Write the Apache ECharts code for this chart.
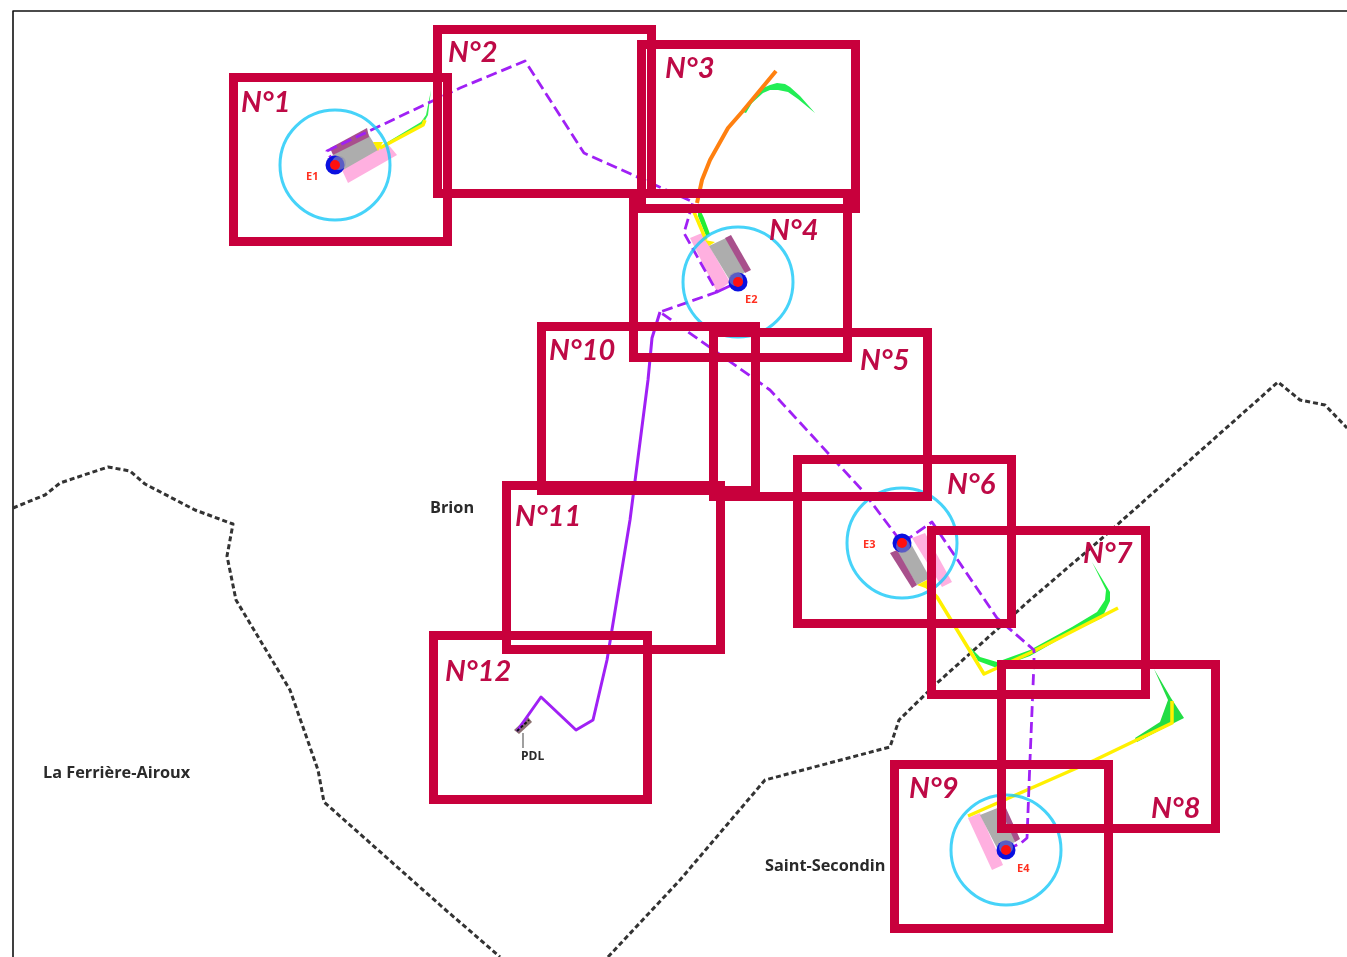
<!DOCTYPE html>
<html>
<head>
<meta charset="utf-8">
<style>html,body{margin:0;padding:0;background:#fff}#c{width:1347px;height:957px}</style>
<script src="https://cdn.jsdelivr.net/npm/echarts@6/dist/echarts.min.js"></script>
</head>
<body>
<div id="c"></div>
<script>
// Map-space values (x, y)
const borderTopLeft = [[13,957],[13,11],[1347,11]];
const communeWest = [[13,508],[45,495],[60,483],[108,467],[130,471],[145,484],[195,510],[233,524],[227,556],[236,600],[290,690],[318,770],[324,802],[440,905],[500,957]];
const communeEast = [[608,957],[680,880],[765,780],[890,747],[899,720],[937,683],[1030,600],[1100,540],[1278,382],[1300,400],[1325,405],[1347,428]];

const cableDashed = [[335,165],[327,151],[460,88],[525,61],[584,153],[693,202],[684,233],[717,292],[738,282],[717,292],[660,312],[770,390],[862,490],[902,543],[932,522],[997,618],[1034,650],[1034,662],[1030,760],[1027,838],[1021,843],[1006,850]];
const cableSolid = [[660,312],[652,338],[648,380],[630,520],[607,660],[593,720],[576,730],[541,697],[517,731]];

const stations = [[335,165,'E1'],[738,282,'E2'],[902,543,'E3'],[1006,850,'E4']];
const stationHalos = [[339,163],[736,279],[903,546],[1006,847]];

const pink1 = [[348,183],[397,155],[387,143],[342,170]];
const grey1 = [[330,157],[367,132],[378,150],[343,170]];
const dark1 = [[330,148],[367,128],[369,137],[333,155]];
const pink2 = [[690,238],[702,233],[730,282],[717,292]];
const grey2 = [[709,246],[726,238],[745,272],[732,284]];
const dark2 = [[725,238],[731,235],[751,270],[745,273]];
const pink3 = [[912,538],[925,533],[952,582],[942,587]];
const grey3 = [[897,552],[910,542],[930,578],[917,585]];
const dark3 = [[890,553],[897,550],[917,585],[912,588]];
const pink4 = [[968,818],[980,813],[1003,865],[992,870]];
const grey4 = [[980,815],[1005,805],[1015,842],[998,850]];
const dark4 = [[1000,808],[1005,806],[1020,839],[1015,842]];

const greenA = [[431,90],[426,115],[421,122],[386,143],[388,145],[423,124],[428,115]];
const greenB = [[743,112],[755,98],[763,88],[770,85],[777,83],[785,84],[790,87],[800,96],[815,113],[798,99],[788,92],[778,90],[770,90],[763,93],[752,103],[746,113]];
const greenC = [[698,205],[704,218],[710,234],[706,236],[698,216]];
const greenD = [[970,647],[980,657],[997,662],[1030,650],[1072,627],[1097,612],[1105,600],[1106,590],[1092,562],[1110,592],[1110,601],[1102,618],[1072,632],[1030,656],[997,668],[978,661]];
const greenE = [[1154,669],[1171,698],[1184,718],[1172,724],[1137,742],[1135,738],[1160,722],[1168,700]];

const yellowTri1 = [[373,142],[383,142],[378,151]];
const yellowTri2 = [[705,240],[715,242],[709,246]];
const yellowTri3 = [[917,585],[927,580],[928,589]];
const yellow1 = [[380,148],[423,125],[425,120]];
const yellow2 = [[694,212],[706,240]];
const yellow3 = [[925,585],[937,597],[984,674],[997,668],[1030,653],[1118,608]];
const yellow4 = [[968,816],[1095,760],[1172,723],[1172,701]];
const orange = [[697,203],[702,180],[710,160],[728,128],[742,112],[776,71]];

const pdlBox = [[514,730],[528,717],[532,722],[519,734]];
const pdlDash = [[517,731],[529,720]];
const pdlStem = [[523,733],[523,748]];

const frames = [[229,73],[433,25],[637,40],[629,189],[709,328],[793,455],[927,526],[997,660],[890,760],[537,322],[502,481],[429,631]];
const frameNames = ['N°1','N°2','N°3','N°4','N°5','N°6','N°7','N°8','N°9','N°10','N°11','N°12'];
const frameLabelPos = [[241,103],[448,53],[665,69],[769,231],[860,361],[947,485],[1083,554],[1151,809],[909,789],[549,351],[515,517],[445,672]];

const placeNames = [['Brion',430,508],['La Ferrière-Airoux',43,773],['Saint-Secondin',765,866]];
const pdlLabel = [['PDL',521,757]];
const stationLabels = [['E1',306,177],['E2',745,300],['E3',863,545],['E4',1017,869]];

const FRAME_W = 214, FRAME_H = 164, FRAME_LW = 9;

function poly(pts, fill, opacity) {
  return {
    type: 'custom', data: pts, silent: true, clip: false,
    renderItem(params, api) {
      if (params.dataIndex !== 0) return null;
      return {type: 'polygon', shape: {points: pts.map(p => api.coord(p))}, style: {fill, opacity: opacity == null ? 1 : opacity}};
    }
  };
}
function line(pts, color, width, dash) {
  return {
    type: 'line', data: pts, showSymbol: false, symbol: 'none', silent: true, clip: true,
    lineStyle: {color, width, type: dash || 'solid', cap: 'butt', join: 'round'}
  };
}
function labels(rows, font, fill) {
  return {
    type: 'custom', data: rows.map(r => [r[1], r[2], r[0]]), silent: true, clip: false,
    renderItem(params, api) {
      const c = api.coord([api.value(0), api.value(1)]);
      return {type: 'text', style: {x: c[0], y: c[1], text: rows[params.dataIndex][0], font, fill, align: 'left', verticalAlign: 'middle'}};
    }
  };
}
function dots(pts, size, color, opacity) {
  return {
    type: 'scatter', data: pts.map(s => [s[0], s[1]]), symbol: 'circle', symbolSize: size, silent: true,
    itemStyle: {color, opacity: opacity == null ? 1 : opacity}
  };
}

const series = [
  line(borderTopLeft, '#111', 1.6),
  line(communeWest, '#333', 3, [5,3]),
  line(communeEast, '#333', 3, [5,3]),

  poly(pink1,'#FFB0E0'), poly(pink2,'#FFB0E0'), poly(pink3,'#FFB0E0'), poly(pink4,'#FFB0E0'),
  poly(grey1,'#ADADAD'), poly(grey2,'#ADADAD'), poly(grey3,'#ADADAD'), poly(grey4,'#ADADAD'),
  poly(dark1,'#A8508C'), poly(dark2,'#A8508C'), poly(dark3,'#A8508C'), poly(dark4,'#A8508C'),

  poly(greenA,'#33EE55'), poly(greenB,'#22EE55'), poly(greenC,'#22EE33'), poly(greenD,'#22EE44'), poly(greenE,'#22DD44'),
  poly(yellowTri1,'#FFF000'), poly(yellowTri2,'#FFF000'), poly(yellowTri3,'#FFF000'),
  line(yellow1,'#FFF000',3.5), line(yellow2,'#FFF000',3.5), line(yellow3,'#FFF000',3.5), line(yellow4,'#FFF000',3.5),
  line(orange,'#FF8010',4),

  poly(pdlBox,'#8A6F6F'),
  line(pdlStem,'#888',1.6),

  line(cableSolid,'#A020F5',3),
  line(pdlDash,'#111',2,[3,2]),
  line(cableDashed,'#A020F5',2.8,[11,5]),

  {
    type: 'scatter', data: stations.map(s => [s[0], s[1]]), symbol: 'circle', symbolSize: 110, silent: true,
    itemStyle: {color: 'rgba(0,0,0,0)', borderColor: '#18C8F8', borderWidth: 3}
  },
  dots(stations, 19,'#0A10E0'),
  dots(stationHalos, 14,'#9090B0',0.6),
  dots(stations, 10,'#FF1010'),

  {
    type: 'custom', data: frames, silent: true, clip: false,
    renderItem(params, api) {
      const f = frames[params.dataIndex];
      const a = api.coord([f[0] + FRAME_LW/2, f[1] + FRAME_LW/2]);
      return {type: 'rect', shape: {x: a[0], y: a[1], width: FRAME_W, height: FRAME_H},
        style: {fill: 'none', stroke: '#C8003C', lineWidth: FRAME_LW}};
    }
  },

  labels(frameNames.map((n,i) => [n, frameLabelPos[i][0], frameLabelPos[i][1]]), 'italic bold 29px Lato, "Open Sans", sans-serif', '#BE0A46'),
  labels(placeNames, 'bold 16.3px "Open Sans", Lato, sans-serif', '#2a2a2a'),
  labels(pdlLabel, 'bold 12px "Open Sans", Lato, sans-serif', '#2a2a2a'),
  labels(stationLabels, 'bold 11px "Open Sans", Lato, sans-serif', '#FF3020')
];
series.forEach((s, i) => { s.z = i + 1; });

const chart = echarts.init(document.getElementById('c'), null, {renderer: 'canvas'});
chart.setOption({
  animation: false,
  backgroundColor: '#fff',
  grid: {left: 0, right: 0, top: 0, bottom: 0},
  xAxis: {type: 'value', min: 0, max: 1347, show: false},
  yAxis: {type: 'value', min: 0, max: 957, inverse: true, show: false},
  tooltip: {show: false},
  series
});
</script>
</body>
</html>
